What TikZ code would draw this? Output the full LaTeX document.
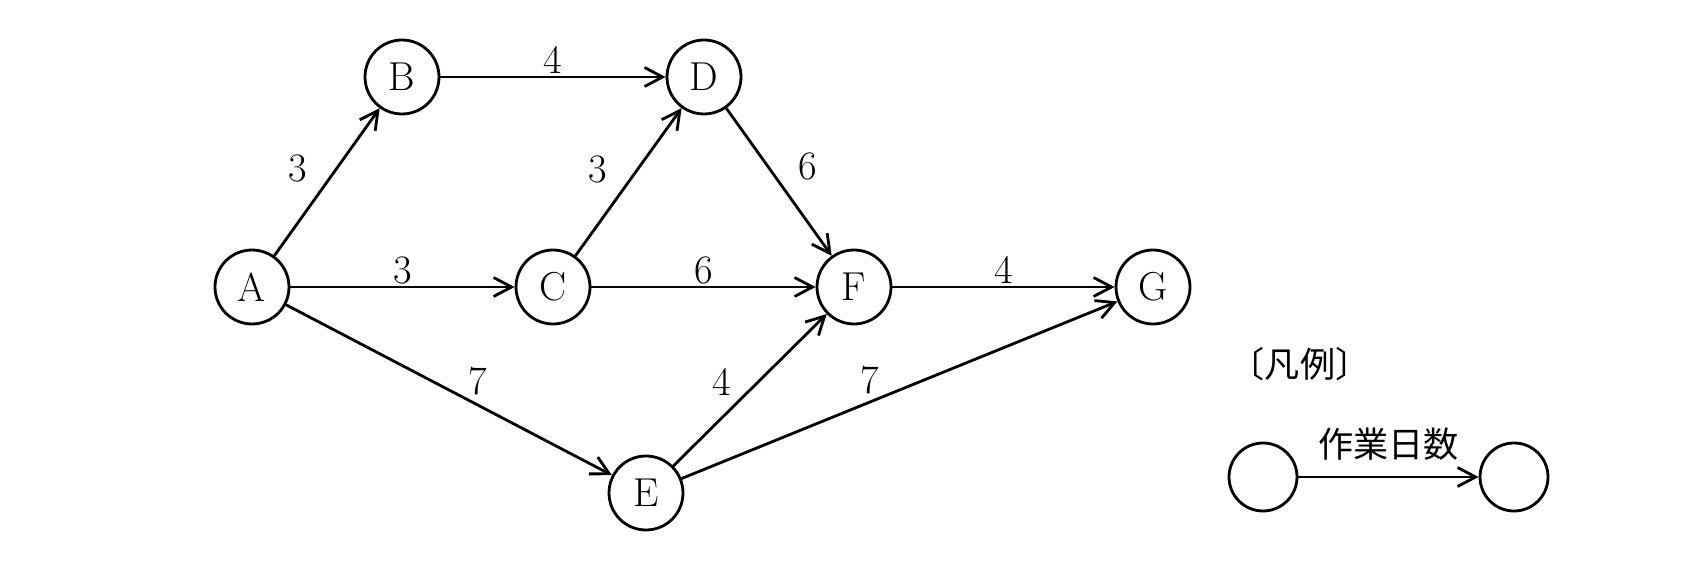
\documentclass[tikz,border=0pt]{standalone}
\usepackage{fontspec}
\newfontfamily\cjk{Noto Sans CJK JP}
\usetikzlibrary{arrows.meta,automata}

\begin{document}
\begin{tikzpicture}[x=0.2mm, y=-0.2mm,
    font=\fontsize{23}{27}\selectfont,
    >={Straight Barb[length=3.6mm,width=3.8mm]}, line width=1.6pt, auto,
    every state/.style={draw, line width=1.6pt, minimum size=14.8mm, inner sep=0pt},
    days/.style={inner sep=1pt}]
  \useasboundingbox (0,0) rectangle (1685,567);
  % task network, edge labels are days
  \node[state] (A) at (252,287) {A};
  \node[state] (B) at (402,77)  {B};
  \node[state] (C) at (553,287) {C};
  \node[state] (D) at (704,77)  {D};
  \node[state] (E) at (646,493) {E};
  \node[state] (F) at (854,287) {F};
  \node[state] (G) at (1153,287) {G};
  \path[->]
    (A) edge node[days, pos=0.42, inner sep=6pt]{3} (B)
    (A) edge node[days]{3} (C)
    (A) edge node[days, pos=0.55]{7} (E)
    (B) edge node[days]{4} (D)
    (C) edge node[days, pos=0.41, inner sep=6pt]{3} (D)
    (C) edge node[days]{6} (F)
    (D) edge node[days, pos=0.57, inner sep=6pt]{6} (F)
    (E) edge node[days, pos=0.42, inner sep=3pt]{4} (F)
    (E) edge node[days, pos=0.46]{7} (G)
    (F) edge node[days]{4} (G);
  % legend
  \node (key) at (1300,364) {\cjk\fontsize{20}{24}\selectfont 〔凡例〕};
  \node[state, minimum size=13.6mm] (from) at (1263,477) {};
  \node[state, minimum size=13.6mm] (to) at (1514,477) {};
  \path[->]
    (from) edge node[inner sep=3mm]{\cjk\fontsize{20}{24}\selectfont 作業日数} (to);
\end{tikzpicture}
\end{document}
